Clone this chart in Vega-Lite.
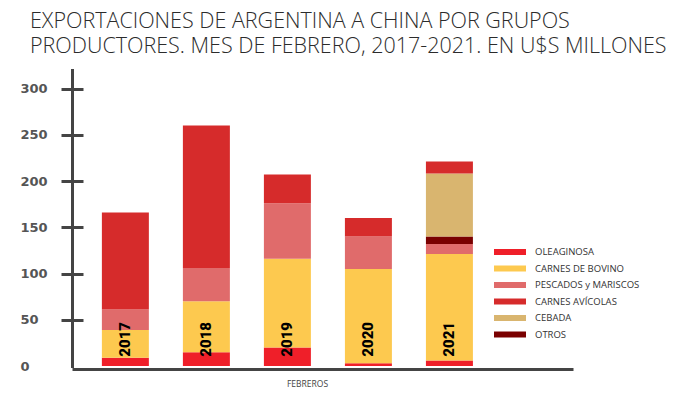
{
  "$schema": "https://vega.github.io/schema/vega-lite/v6.json",
  "autosize": {"type": "none"},
  "width": 512,
  "height": 296,
  "padding": {"left": 61, "top": 70, "right": 114, "bottom": 30},
  "background": "white",
  "title": {
    "text": ["EXPORTACIONES DE ARGENTINA A CHINA POR GRUPOS", "PRODUCTORES. MES DE FEBRERO, 2017-2021. EN U$S MILLONES"],
    "anchor": "start",
    "frame": "group",
    "dx": -31,
    "font": "Open Sans",
    "fontSize": 21.5,
    "fontWeight": 300,
    "color": "#2b2b2b",
    "lineHeight": 25,
    "offset": 13
  },
  "datasets": {
    "exportaciones": [
      {"anio": "2017", "categoria": "OLEAGINOSA", "valor": 9, "orden": 1},
      {"anio": "2017", "categoria": "CARNES DE BOVINO", "valor": 30, "orden": 2},
      {"anio": "2017", "categoria": "PESCADOS y MARISCOS", "valor": 22, "orden": 3},
      {"anio": "2017", "categoria": "CARNES AVÍCOLAS", "valor": 105, "orden": 6},
      {"anio": "2018", "categoria": "OLEAGINOSA", "valor": 15, "orden": 1},
      {"anio": "2018", "categoria": "CARNES DE BOVINO", "valor": 55, "orden": 2},
      {"anio": "2018", "categoria": "PESCADOS y MARISCOS", "valor": 36, "orden": 3},
      {"anio": "2018", "categoria": "CARNES AVÍCOLAS", "valor": 154, "orden": 6},
      {"anio": "2019", "categoria": "OLEAGINOSA", "valor": 20, "orden": 1},
      {"anio": "2019", "categoria": "CARNES DE BOVINO", "valor": 96, "orden": 2},
      {"anio": "2019", "categoria": "PESCADOS y MARISCOS", "valor": 60, "orden": 3},
      {"anio": "2019", "categoria": "CARNES AVÍCOLAS", "valor": 31, "orden": 6},
      {"anio": "2020", "categoria": "OLEAGINOSA", "valor": 3, "orden": 1},
      {"anio": "2020", "categoria": "CARNES DE BOVINO", "valor": 102, "orden": 2},
      {"anio": "2020", "categoria": "PESCADOS y MARISCOS", "valor": 35, "orden": 3},
      {"anio": "2020", "categoria": "CARNES AVÍCOLAS", "valor": 20, "orden": 6},
      {"anio": "2021", "categoria": "OLEAGINOSA", "valor": 6, "orden": 1},
      {"anio": "2021", "categoria": "CARNES DE BOVINO", "valor": 115, "orden": 2},
      {"anio": "2021", "categoria": "PESCADOS y MARISCOS", "valor": 11, "orden": 3},
      {"anio": "2021", "categoria": "OTROS", "valor": 8, "orden": 4},
      {"anio": "2021", "categoria": "CEBADA", "valor": 68, "orden": 5},
      {"anio": "2021", "categoria": "CARNES AVÍCOLAS", "valor": 13, "orden": 6}
    ]
  },
  "data": {"name": "exportaciones"},
  "encoding": {
    "x": {
      "field": "anio",
      "type": "nominal",
      "scale": {"paddingInner": 0.42, "paddingOuter": 0.87, "align": 0.29},
      "axis": {
        "labels": false,
        "ticks": false,
        "domainColor": "#444444",
        "domainWidth": 3,
        "domainDash": [0, 11, 2000],
        "offset": 3,
        "title": "FEBREROS",
        "titleFont": "Open Sans",
        "titleFontSize": 8.5,
        "titleFontWeight": "normal",
        "titleColor": "#444444",
        "titleX": 246,
        "titleY": 14,
        "titleAlign": "center",
        "titleBaseline": "middle"
      }
    }
  },
  "layer": [
    {
      "mark": {"type": "bar"},
      "encoding": {
        "y": {
          "field": "valor",
          "type": "quantitative",
          "stack": "zero",
          "scale": {"domain": [0, 320], "nice": false},
          "axis": {
            "values": [0, 50, 100, 150, 200, 250, 300],
            "title": null,
            "offset": -11,
            "ticks": false,
            "domainColor": "#444444",
            "domainWidth": 3,
            "domainCap": "square",
            "grid": true,
            "gridColor": "#444444",
            "gridWidth": 3,
            "gridDash": [22, 2000],
            "gridOpacity": {"condition": {"test": "datum.value === 0", "value": 0}, "value": 1},
            "labelFont": "DejaVu Sans",
            "labelFontWeight": "bold",
            "labelFontSize": 13,
            "labelColor": "#555555",
            "labelAlign": "left",
            "labelPadding": 52
          }
        },
        "color": {
          "field": "categoria",
          "type": "nominal",
          "scale": {
            "domain": ["OLEAGINOSA", "CARNES DE BOVINO", "PESCADOS y MARISCOS", "CARNES AVÍCOLAS", "CEBADA", "OTROS"],
            "range": ["#EF1F29", "#FDC94F", "#E06B6B", "#D62B2B", "#D9B56F", "#7A0000"]
          },
          "legend": {
            "orient": "none",
            "legendX": 444,
            "legendY": 177,
            "title": null,
            "padding": 0,
            "symbolType": "M-3.2,-0.6H3.2V0.6H-3.2Z",
            "symbolSize": 100,
            "symbolStrokeWidth": 0,
            "labelFont": "Open Sans",
            "labelFontSize": 9.5,
            "labelColor": "#333333",
            "labelOffset": 20,
            "rowPadding": 6.5
          }
        },
        "order": {"field": "orden", "type": "quantitative"}
      }
    },
    {
      "transform": [{"filter": "datum.categoria === 'CARNES DE BOVINO'"}],
      "mark": {
        "type": "text",
        "angle": 270,
        "align": "left",
        "baseline": "middle",
        "font": "Roboto",
        "fontWeight": 900,
        "fontSize": 15,
        "color": "#000000"
      },
      "encoding": {
        "y": {"datum": 10},
        "text": {"field": "anio", "type": "nominal"}
      }
    }
  ],
  "config": {"view": {"stroke": null}}
}
